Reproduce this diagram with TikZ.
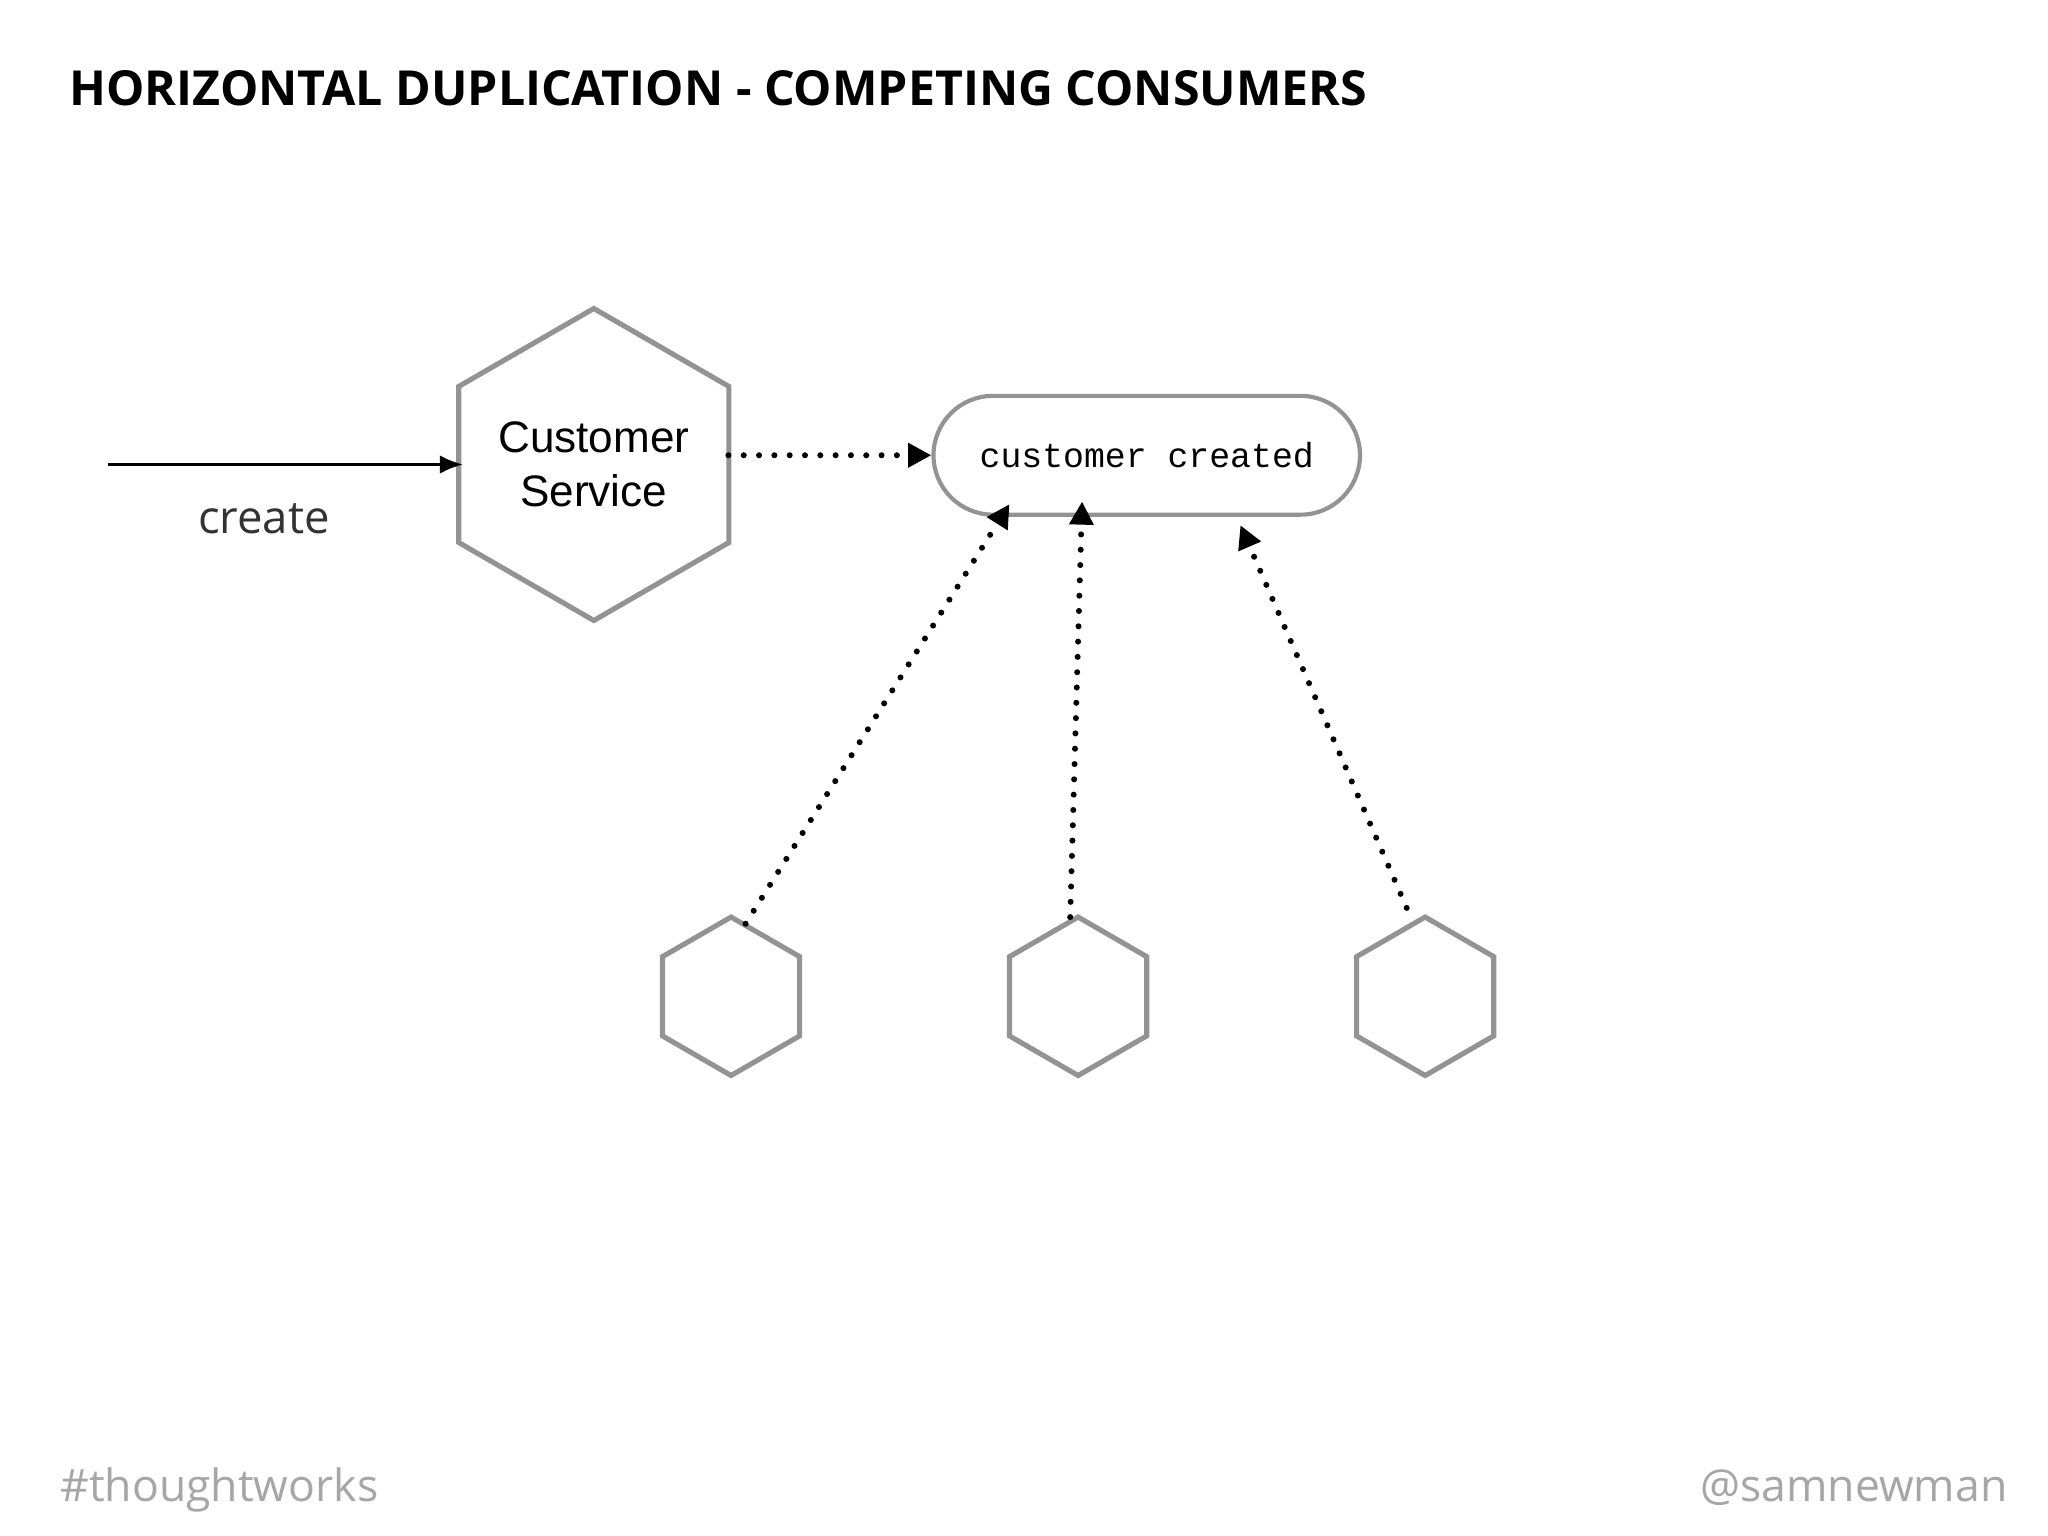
\documentclass[tikz,border=0pt]{standalone}
\usepackage{fontspec}
\setmainfont{Open Sans}
\newfontfamily\helv{Liberation Sans}
\newfontfamily\mono{Liberation Mono}
\usetikzlibrary{shapes.geometric,arrows.meta}
\begin{document}
\begin{tikzpicture}[x=0.01cm,y=-0.01cm,
  hex/.style={regular polygon,regular polygon sides=6,shape border rotate=30,draw=gray!85,line width=1.1pt,inner sep=0pt},
  dots/.style={line width=1.3pt,dash pattern=on 0pt off 3.3pt,line cap=round,-{Triangle[length=5pt,width=5pt]}},
  lbl/.style={inner sep=0pt,font=\fontsize{9.6}{12}\selectfont\addfontfeatures{Weight=300}}]
\useasboundingbox (0,0) rectangle (1552,1164);
\node[anchor=base west,inner sep=0pt,font=\fontsize{10.4}{13}\selectfont\bfseries] (title) at (52,80) {HORIZONTAL DUPLICATION - COMPETING CONSUMERS};
\node[hex,minimum size=2.24cm,align=center,font=\helv\fontsize{9.5}{11.5}\selectfont] (cs) at (450,352) {Customer\\Service};
\coordinate (in) at (82,352);
\draw[line width=0.8pt,-{Latex[length=5pt,width=4pt]}] (in) -- (351,352);
\node[lbl,text=black!80,font=\fontsize{9.8}{12}\selectfont\addfontfeatures{Weight=300}] (create) at (200,393) {create};
\node[draw=gray!85,line width=0.9pt,rounded corners=0.45cm,minimum width=3.23cm,minimum height=0.9cm,font=\mono\fontsize{7.5}{9}\selectfont] (ev) at (869,345) {customer created};
\draw[dots] (552,345) -- (ev.west);
\node[hex,minimum size=1.2cm] (h1) at (554,755) {};
\node[hex,minimum size=1.2cm] (h2) at (817,755) {};
\node[hex,minimum size=1.2cm] (h3) at (1080,755) {};
\coordinate (t1) at (765,382);
\coordinate (t2) at (820,380);
\coordinate (t3) at (940,398);
\draw[dots] (565,700) -- (t1);
\draw[dots] (811,695) -- (t2);
\draw[dots] (1066,688) -- (t3);
\node[lbl,text=gray!70,anchor=base west] (tw) at (45,1138) {\#thoughtworks};
\node[lbl,text=gray!70,anchor=base east] (sn) at (1522,1138) {@samnewman};
\end{tikzpicture}
\end{document}
